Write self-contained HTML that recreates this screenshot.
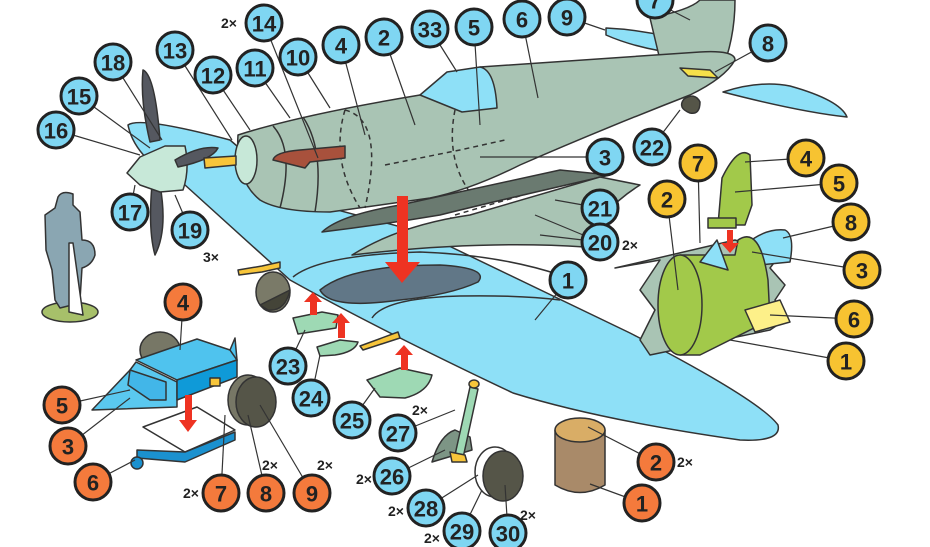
<!DOCTYPE html>
<html><head><meta charset="utf-8"><style>
html,body{margin:0;padding:0;background:#fff;width:930px;height:547px;overflow:hidden}
svg{display:block}
text{font-family:"Liberation Sans",sans-serif;font-weight:bold;fill:#222}
.n{font-size:22px;text-anchor:middle;dominant-baseline:central}
.x{font-size:14px}
</style></head><body>
<svg width="930" height="547" viewBox="0 0 930 547" xmlns="http://www.w3.org/2000/svg" stroke-linejoin="round">
<g stroke="#333" stroke-width="1.5">
<!-- stabilizers -->
<path d="M606,28 Q650,30 700,45 L690,55 Q640,50 606,35 Z" fill="#8ee0f7"/>
<path d="M723,92 Q760,80 790,86 Q840,100 847,117 Q800,112 723,92 Z" fill="#8ee0f7"/>
<!-- main wing -->
<path d="M128,125 Q140,116 230,140 L300,200 L420,232 L630,333 Q760,400 778,425 Q782,442 740,440 Q600,420 513,393 Q380,330 290,280 L185,185 Q135,160 128,125 Z" fill="#8ee0f7"/>
<path d="M293,277 Q320,255 420,252 Q500,255 560,275" fill="none"/>
<path d="M320,290 Q350,265 440,265 Q490,268 478,282 Q450,295 400,300 Q330,310 320,290 Z" fill="#617787"/>
<path d="M372,318 Q385,298 460,296 Q520,295 560,300" fill="none"/>
<!-- fin -->
<path d="M650,18 Q690,10 700,0 L735,0 Q735,40 720,75 L660,60 Z" fill="#a9c4b4"/>
<!-- fuselage -->
<path d="M238,135 Q300,115 420,95 L480,67 L700,52 Q735,50 735,60 Q725,78 690,95 Q600,130 520,165 Q470,190 430,198 L330,212 Q280,212 260,200 Q235,180 238,135 Z" fill="#a9c4b4"/>
<path d="M420,95 L447,72 L480,67 Q495,70 497,108 L462,112 Z" fill="#8ee0f7"/>
<ellipse cx="246" cy="160" rx="11" ry="24" fill="#c7e8d8"/>
<path d="M273,126 Q295,150 280,208" fill="none"/>
<path d="M303,117 Q325,150 315,212" fill="none"/>
<g stroke-dasharray="5,4" fill="none">
<path d="M345,110 Q385,120 365,208"/><path d="M345,110 Q330,160 360,208"/>
<path d="M455,110 Q445,160 472,195"/><path d="M385,165 L460,150 L505,140"/>
<path d="M455,215 L540,190 L585,175"/><path d="M450,218 L530,222"/>
</g>
<path d="M273,160 Q275,152 300,150 L345,146 L345,158 L310,162 L305,168 Z" fill="#a8513c"/>
<!-- underwing flap pieces -->
<path d="M322,232 Q340,215 400,205 L560,170 L610,175 Q500,200 440,215 Q380,225 322,232 Z" fill="#6a7a70"/>
<path d="M352,255 Q400,225 470,215 L600,177 L640,185 Q600,210 585,247 Q480,240 352,255 Z" fill="#a9c4b4"/>
<!-- tail wheel / bits -->
<path d="M684,99 Q695,92 700,102 Q700,115 690,113 Q677,108 684,99 Z" fill="#555548"/>
<path d="M680,68 L710,70 L718,78 L688,76 Z" fill="#f6e04a"/>
<!-- spinner + prop -->
<path d="M143,70 Q155,75 160,140 L150,142 Q140,100 143,70 Z" fill="#555860"/>
<path d="M160,185 Q168,230 155,255 Q148,230 152,185 Z" fill="#555860"/>
<path d="M127,173 L140,157 L165,146 L185,146 Q190,170 183,190 L160,192 L140,185 Z" fill="#c7e8d8"/>
<path d="M175,160 Q200,145 218,148 Q212,160 178,167 Z" fill="#555860"/>
<path d="M204,158 L236,156 L236,165 L205,168 Z" fill="#f7c53a"/>
<!-- small landing gear near wing -->
<path d="M238,270 L262,266 L280,262 L280,268 L262,272 L239,275 Z" fill="#f7c53a"/>
<ellipse cx="273" cy="292" rx="17" ry="20" fill="#7a7a68"/>
<path d="M260,305 L290,290 Q285,312 268,310 Z" fill="#444438"/>
<path d="M293,318 L322,312 L338,315 L336,328 L298,334 Z" fill="#9ed9b4"/>
<path d="M317,347 L340,340 L358,342 Q355,352 335,355 L320,356 Z" fill="#9ed9b4"/>
<path d="M360,346 L398,332 L400,338 L363,350 Z" fill="#f7c53a"/>
<path d="M367,380 L400,368 L432,375 Q428,392 405,398 L380,397 Z" fill="#9ed9b4"/>
<!-- gear leg 26/27 -->
<path d="M432,462 Q440,435 455,430 L470,437 L472,450 Z" fill="#7d9585"/>
<path d="M470,387 L478,389 L463,458 L455,455 Z" fill="#9ed9b4"/>
<ellipse cx="474" cy="384" rx="5" ry="4" fill="#f7c53a"/>
<path d="M450,452 L465,455 L467,462 L452,462 Z" fill="#f7c53a"/>
<ellipse cx="495" cy="472" rx="20" ry="25" fill="#fff"/>
<ellipse cx="503" cy="476" rx="20" ry="25" fill="#555548"/>
<!-- orange vehicle -->
<ellipse cx="160" cy="350" rx="20" ry="18" fill="#777766"/>
<path d="M92,410 L130,370 L136,362 L177,382 L177,407 Z" fill="#5ac8ef"/>
<path d="M136,360 L197,339 L230,350 L237,360 L177,380 Z" fill="#4fc3ee"/>
<path d="M177,380 L237,360 L237,377 L177,400 Z" fill="#0f9ad8"/>
<path d="M130,370 L166,382 L166,400 L150,400 L128,385 Z" fill="#42b6e8"/>
<path d="M230,350 L235,338 L237,360 Z" fill="#4fc3ee"/>
<path d="M143,427 L197,407 L235,430 L185,452 Z" fill="#fff"/>
<path d="M137,450 L185,452 L235,432 L235,440 L185,462 L137,458 Z" fill="#1b91cf"/>
<ellipse cx="137" cy="463" rx="6" ry="6" fill="#1b91cf"/>
<ellipse cx="248" cy="400" rx="20" ry="25" fill="#777766"/>
<ellipse cx="256" cy="402" rx="20" ry="25" fill="#555548"/>
<rect x="210" y="378" width="10" height="8" fill="#f7c53a"/>
<!-- crate -->
<path d="M555,430 L555,485 Q580,500 605,485 L605,430 Z" fill="#a98a69"/>
<ellipse cx="580" cy="430" rx="25" ry="12" fill="#d9ad66"/>
<!-- pilot figure -->
<ellipse cx="70" cy="312" rx="28" ry="10" fill="#a7c06a"/>
<path d="M58,197 Q62,190 73,194 L73,205 L80,212 L82,240 Q95,240 95,255 Q92,265 82,268 L80,300 L72,305 L60,308 L55,300 L52,270 L46,250 L45,215 L55,208 Z" fill="#8aa6b2"/>
<path d="M69,243 L73,243 L83,315 L69,312 Z" fill="#fff"/>
<!-- cockpit detail (yellow) -->
<path d="M615,268 L660,260 L640,290 L655,310 L640,340 L650,355 L770,330 L785,320 L775,300 L785,285 L770,268 L780,255 L735,240 Z" fill="#a9c4b4"/>
<path d="M745,245 Q765,228 785,230 Q795,235 790,262 L760,265 Z" fill="#8ee0f7"/>
<path d="M680,255 L735,255 L738,240 Q760,225 768,280 L770,320 L700,355 L680,355 Z" fill="#a2c94a"/>
<ellipse cx="680" cy="305" rx="22" ry="50" fill="#a2c94a"/>
<path d="M700,262 L717,240 L728,270 Z" fill="#8ee0f7"/>
<path d="M745,310 L780,300 L790,322 L755,332 Z" fill="#fdf089"/>
<path d="M722,178 Q738,145 750,155 L752,205 L745,225 L718,225 Z" fill="#a2c94a"/>
<rect x="708" y="218" width="28" height="10" fill="#a2c94a"/>
</g>
<!-- red arrows -->
<g fill="#ee3322">
<path d="M397,196 L408,196 L408,262 L420,262 L402,283 L385,262 L397,262 Z"/>
<path d="M310,315 L317,315 L317,302 L322,302 L313,292 L304,302 L310,302 Z"/>
<path d="M338,338 L345,338 L345,323 L350,323 L341,313 L332,323 L338,323 Z"/>
<path d="M401,370 L408,370 L408,355 L413,355 L404,345 L395,355 L401,355 Z"/>
<path d="M185,395 L192,395 L192,420 L197,420 L188,432 L179,420 L185,420 Z"/>
<path d="M727,230 L733,230 L733,243 L739,243 L730,253 L721,243 L727,243 Z"/>
</g>
<!-- leader lines -->
<g stroke="#333" stroke-width="1.2" fill="none">
<path d="M655,2 L690,20"/><path d="M567,17 L605,30"/><path d="M522,19 L538,98"/><path d="M474,27 L480,125"/>
<path d="M430,29 L457,72"/><path d="M384,37 L415,125"/><path d="M341,45 L365,135"/><path d="M298,57 L330,108"/>
<path d="M255,68 L290,118"/><path d="M264,23 L318,158"/><path d="M213,75 L250,130"/><path d="M175,50 L232,140"/>
<path d="M113,62 L162,140"/><path d="M79,96 L150,148"/><path d="M56,130 L140,155"/><path d="M130,212 L135,185"/>
<path d="M190,230 L175,195"/><path d="M768,43 L715,72"/><path d="M652,147 L680,110"/><path d="M605,157 L480,157"/>
<path d="M600,208 L555,200"/><path d="M600,242 L535,215 M600,242 L540,235"/><path d="M568,280 L535,320"/>
<path d="M288,366 L305,330"/><path d="M311,398 L320,355"/><path d="M352,420 L375,388"/><path d="M398,433 L455,410"/>
<path d="M392,476 L445,450"/><path d="M426,508 L478,475"/><path d="M462,531 L482,490"/><path d="M508,533 L505,485"/>
<path d="M183,302 L180,350"/><path d="M62,405 L130,390"/><path d="M68,446 L130,398"/><path d="M93,482 L135,460"/>
<path d="M221,493 L225,415"/><path d="M266,493 L248,415"/><path d="M312,493 L260,405"/>
<path d="M656,462 L588,427"/><path d="M642,503 L590,484"/>
<path d="M698,163 L700,243"/><path d="M667,199 L678,290"/><path d="M806,158 L745,162"/><path d="M839,183 L735,192"/>
<path d="M851,222 L783,238"/><path d="M862,270 L752,252"/><path d="M854,319 L770,315"/><path d="M846,361 L730,340"/>
</g>
<!-- number circles -->
<g stroke="#222" stroke-width="3">
<g fill="#7fd6f2">
<circle cx="655" cy="0" r="18"/><circle cx="567" cy="17" r="18"/><circle cx="522" cy="19" r="18"/><circle cx="474" cy="27" r="18"/>
<circle cx="430" cy="29" r="18"/><circle cx="384" cy="37" r="18"/><circle cx="341" cy="45" r="18"/><circle cx="298" cy="57" r="18"/>
<circle cx="255" cy="68" r="18"/><circle cx="264" cy="23" r="18"/><circle cx="213" cy="75" r="18"/><circle cx="175" cy="50" r="18"/>
<circle cx="113" cy="62" r="18"/><circle cx="79" cy="96" r="18"/><circle cx="56" cy="130" r="18"/><circle cx="130" cy="212" r="18"/>
<circle cx="190" cy="230" r="18"/><circle cx="768" cy="43" r="18"/><circle cx="652" cy="147" r="18"/><circle cx="605" cy="157" r="18"/>
<circle cx="600" cy="208" r="18"/><circle cx="600" cy="242" r="18"/><circle cx="568" cy="280" r="18"/>
<circle cx="288" cy="366" r="18"/><circle cx="311" cy="398" r="18"/><circle cx="352" cy="420" r="18"/><circle cx="398" cy="433" r="18"/>
<circle cx="392" cy="476" r="18"/><circle cx="426" cy="508" r="18"/><circle cx="462" cy="531" r="18"/><circle cx="508" cy="533" r="18"/>
</g>
<g fill="#f47a3c">
<circle cx="183" cy="302" r="18"/><circle cx="62" cy="405" r="18"/><circle cx="68" cy="446" r="18"/><circle cx="93" cy="482" r="18"/>
<circle cx="221" cy="493" r="18"/><circle cx="266" cy="493" r="18"/><circle cx="312" cy="493" r="18"/>
<circle cx="656" cy="462" r="18"/><circle cx="642" cy="503" r="18"/>
</g>
<g fill="#f7c331">
<circle cx="698" cy="163" r="18"/><circle cx="667" cy="199" r="18"/><circle cx="806" cy="158" r="18"/><circle cx="839" cy="183" r="18"/>
<circle cx="851" cy="222" r="18"/><circle cx="862" cy="270" r="18"/><circle cx="854" cy="319" r="18"/><circle cx="846" cy="361" r="18"/>
</g>
</g>
<g>
<text class="n" x="655" y="1">7</text><text class="n" x="567" y="18">9</text><text class="n" x="522" y="20">6</text><text class="n" x="474" y="28">5</text>
<text class="n" x="430" y="30">33</text><text class="n" x="384" y="38">2</text><text class="n" x="341" y="46">4</text><text class="n" x="298" y="58">10</text>
<text class="n" x="255" y="69">11</text><text class="n" x="264" y="24">14</text><text class="n" x="213" y="76">12</text><text class="n" x="175" y="51">13</text>
<text class="n" x="113" y="63">18</text><text class="n" x="79" y="97">15</text><text class="n" x="56" y="131">16</text><text class="n" x="130" y="213">17</text>
<text class="n" x="190" y="231">19</text><text class="n" x="768" y="44">8</text><text class="n" x="652" y="148">22</text><text class="n" x="605" y="158">3</text>
<text class="n" x="600" y="209">21</text><text class="n" x="600" y="243">20</text><text class="n" x="568" y="281">1</text>
<text class="n" x="288" y="367">23</text><text class="n" x="311" y="399">24</text><text class="n" x="352" y="421">25</text><text class="n" x="398" y="434">27</text>
<text class="n" x="392" y="477">26</text><text class="n" x="426" y="509">28</text><text class="n" x="462" y="532">29</text><text class="n" x="508" y="534">30</text>
<text class="n" x="183" y="303">4</text><text class="n" x="62" y="406">5</text><text class="n" x="68" y="447">3</text><text class="n" x="93" y="483">6</text>
<text class="n" x="221" y="494">7</text><text class="n" x="266" y="494">8</text><text class="n" x="312" y="494">9</text>
<text class="n" x="656" y="463">2</text><text class="n" x="642" y="504">1</text>
<text class="n" x="698" y="164">7</text><text class="n" x="667" y="200">2</text><text class="n" x="806" y="159">4</text><text class="n" x="839" y="184">5</text>
<text class="n" x="851" y="223">8</text><text class="n" x="862" y="271">3</text><text class="n" x="854" y="320">6</text><text class="n" x="846" y="362">1</text>
</g>
<g>
<text class="x" x="221" y="28">2×</text><text class="x" x="203" y="262">3×</text><text class="x" x="622" y="250">2×</text>
<text class="x" x="412" y="415">2×</text><text class="x" x="356" y="484">2×</text><text class="x" x="388" y="516">2×</text>
<text class="x" x="424" y="543">2×</text><text class="x" x="520" y="520">2×</text><text class="x" x="183" y="498">2×</text>
<text class="x" x="262" y="470">2×</text><text class="x" x="317" y="470">2×</text><text class="x" x="677" y="467">2×</text>
</g>
</svg>
</body></html>
